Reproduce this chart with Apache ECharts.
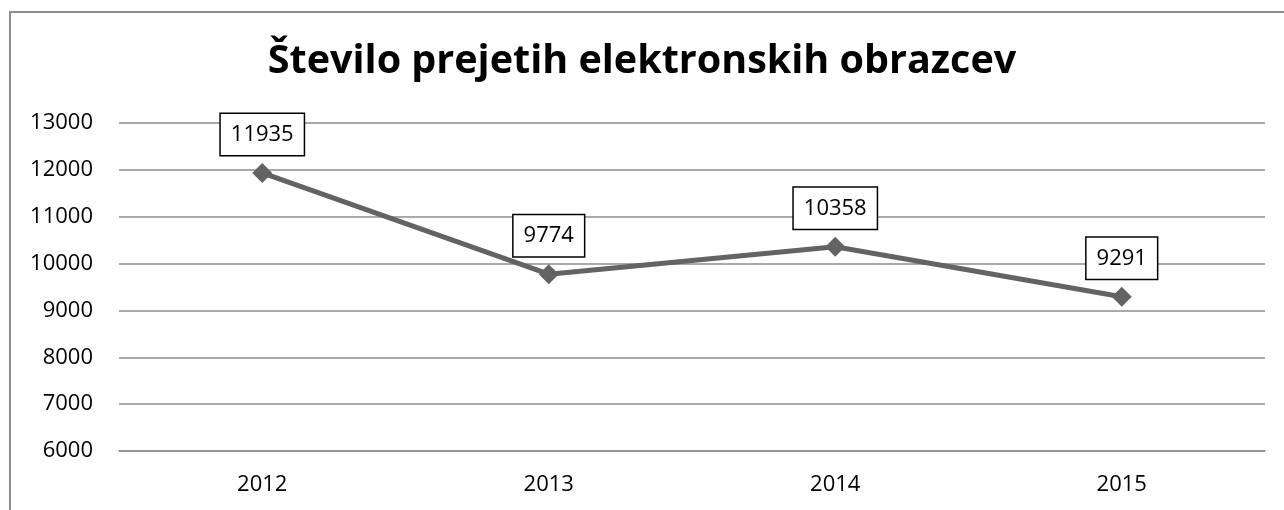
<!DOCTYPE html>
<html lang="sl">
<head>
  <meta charset="UTF-8">
  <title>Število prejetih elektronskih obrazcev</title>
  <script src="https://cdn.jsdelivr.net/npm/echarts@6/dist/echarts.min.js"></script>
  <style>
    html, body { margin: 0; padding: 0; background: #fff; overflow: hidden; }
    #frame { position: absolute; left: 9px; top: 11px; width: 1400px; height: 600px; border-left: 2px solid #8c8c8c; border-top: 2px solid #8c8c8c; }
    #main { position: absolute; left: 0; top: 0; width: 1284px; height: 510px; }
  </style>
</head>
<body>
  <div id="frame"></div>
  <div id="main"></div>
  <script>
    // podatki
    var years = ['2012', '2013', '2014', '2015']
    var forms = [11935, 9774, 10358, 9291]
    var yMin = 6000
    var yMax = 13000
    var yStep = 1000

    var mCharts = echarts.init(document.getElementById('main'))
    var font = '"Open Sans", sans-serif'
    var option = {
      animation: false,
      title: {
        text: 'Število prejetih elektronskih obrazcev',
        left: 'center',
        top: 37,
        textStyle: { fontFamily: font, fontSize: 39.5, fontWeight: 'bold', color: '#000' }
      },
      grid: { left: 119, right: 19, top: 123, bottom: 59 },
      xAxis: {
        type: 'category',
        data: years,
        boundaryGap: true,
        axisLine: { lineStyle: { color: '#8c8c8c', width: 1.5 } },
        axisTick: { show: false },
        axisLabel: { color: '#000', fontFamily: font, fontSize: 22, margin: 23 }
      },
      yAxis: {
        type: 'value',
        min: yMin,
        max: yMax,
        interval: yStep,
        axisLine: { show: false },
        axisTick: { show: false },
        axisLabel: {
          color: '#000', fontFamily: font, fontSize: 22, margin: 26,
          formatter: function (v) { return String(v) }
        },
        splitLine: { lineStyle: { color: '#8c8c8c', width: 1.5 } }
      },
      series: [
        {
          type: 'line',
          data: forms,
          symbol: 'diamond',
          symbolSize: 20,
          lineStyle: { color: '#636363', width: 5 },
          itemStyle: { color: '#636363' },
          label: {
            show: true,
            position: 'top',
            distance: 8,
            color: '#000',
            fontFamily: font,
            fontSize: 22,
            lineHeight: 22,
            backgroundColor: '#fff',
            borderColor: '#000',
            borderWidth: 1.5,
            padding: [10, 10, 9, 10]
          }
        }
      ]
    }
    mCharts.setOption(option)
  </script>
</body>
</html>
